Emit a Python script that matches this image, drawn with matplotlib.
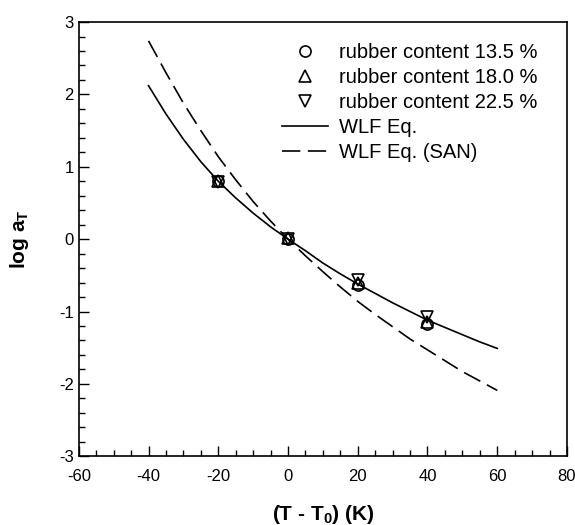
import matplotlib
matplotlib.use('Agg')
import matplotlib.pyplot as plt
from matplotlib.ticker import MultipleLocator

plt.rcParams['font.family'] = ['Liberation Sans', 'DejaVu Sans']
plt.rcParams['axes.unicode_minus'] = False

# measured shift factors
dT_pts = [-20, 0, 20, 40]
log_aT_135 = [0.80, 0.0, -0.64, -1.17]
log_aT_180 = [0.81, 0.01, -0.60, -1.14]
log_aT_225 = [0.79, 0.0, -0.57, -1.08]

# curves
dT_line = [-40, -35, -30, -25, -20, -15, -10, -5, 0, 5, 10, 15, 20, 25, 30, 35, 40, 45, 50, 55, 60]
wlf = [2.12, 1.73, 1.38, 1.07, 0.80, 0.57, 0.36, 0.17, 0.0, -0.16, -0.33, -0.48, -0.62,
       -0.75, -0.88, -1.00, -1.12, -1.22, -1.32, -1.42, -1.51]
wlf_san = [2.74, 2.30, 1.88, 1.50, 1.14, 0.82, 0.52, 0.25, 0.0, -0.23, -0.45, -0.66, -0.86,
           -1.04, -1.21, -1.38, -1.53, -1.68, -1.83, -1.96, -2.09]

fig = plt.figure(figsize=(5.75, 5.25), dpi=100)
ax = fig.add_axes([0.137, 0.131, 0.849, 0.827])

mk = dict(linestyle='none', markerfacecolor='none', markeredgecolor='black', markersize=8, markeredgewidth=1.2)
ax.plot(dT_pts, log_aT_135, marker='o', label='rubber content 13.5 %', **mk)
ax.plot(dT_pts, log_aT_180, marker='^', label='rubber content 18.0 %', **mk)
ax.plot(dT_pts, log_aT_225, marker='v', label='rubber content 22.5 %', **mk)
ax.plot(dT_line, wlf, color='black', linewidth=1.2, label='WLF Eq.')
ax.plot(dT_line, wlf_san, color='black', linewidth=1.2, dashes=(11, 4.5), label='WLF Eq. (SAN)')

ax.set_xlim(-60, 80)
ax.set_ylim(-3, 3)
ax.xaxis.set_major_locator(MultipleLocator(20))
ax.xaxis.set_minor_locator(MultipleLocator(5))
ax.yaxis.set_major_locator(MultipleLocator(1))
ax.yaxis.set_minor_locator(MultipleLocator(0.2))
ax.tick_params(which='both', direction='in', top=False, right=False, labelsize=12, width=1)
ax.tick_params(axis='x', pad=9)
ax.tick_params(which='major', length=7)
ax.tick_params(which='minor', length=4)
for s in ax.spines.values():
    s.set_linewidth(1.2)

ax.set_xlabel('(T - T$_\\mathregular{0}$) (K)', fontsize=15, fontweight='bold', labelpad=14)
ax.set_ylabel('log a$_\\mathregular{T}$', fontsize=15, fontweight='bold', labelpad=20)

ax.legend(loc='upper left', bbox_to_anchor=(0.416, 0.952), frameon=False, fontsize=14.5,
          handlelength=2.3, handletextpad=0.55, labelspacing=0.3, borderaxespad=0,
          borderpad=0)

fig.savefig('out.png', dpi=100)
